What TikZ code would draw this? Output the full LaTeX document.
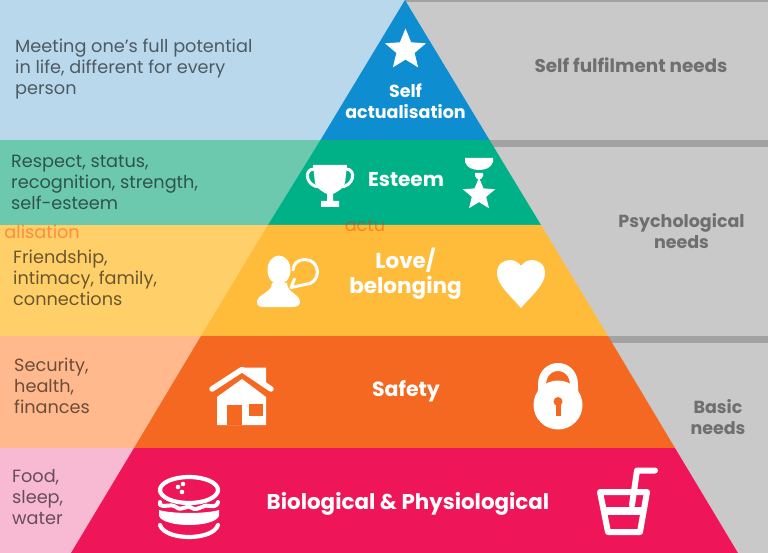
\documentclass[tikz,border=0pt]{standalone}
\usepackage{fontspec}
\setmainfont{Poppins}
\usepackage{tikz}
\usetikzlibrary{positioning,shapes.geometric}
\definecolor{selfblue}{HTML}{0E8ED0}
\definecolor{esteemgreen}{HTML}{00B188}
\definecolor{loveyellow}{HTML}{FFBC3A}
\definecolor{safetyorange}{HTML}{F56821}
\definecolor{bioRed}{HTML}{EE1558}
\definecolor{selfpale}{HTML}{B9D8EB}
\definecolor{esteempale}{HTML}{6DC9AE}
\definecolor{lovepale}{HTML}{FFCF69}
\definecolor{safetypale}{HTML}{FFB98C}
\definecolor{biopale}{HTML}{F8B9D2}
\definecolor{sidegray}{HTML}{C9C9C9}
\definecolor{rulegray}{HTML}{A2A2A2}
\definecolor{sidetext}{HTML}{6F6F6F}
\tikzset{
  needtext/.style = {anchor=west, align=left, font=\fontsize{17.7}{21}\selectfont, text=black, text opacity=0.58, inner sep=0pt},
  leveltext/.style = {align=center, font=\fontsize{20.5}{25}\selectfont\bfseries, text=white, inner sep=0pt},
  grouptext/.style = {align=center, font=\fontsize{17.5}{21}\selectfont\bfseries, text=sidetext, inner sep=0pt},
  ghosttext/.style = {font=\fontsize{17.7}{21}\selectfont, text=red!70!orange, text opacity=0.4, inner sep=0pt},
  iconline/.style = {draw=white, line cap=round, line join=round},
  iconfill/.style = {fill=white},
  iconstar/.style = {star, star points=5, star point ratio=2.25, fill=white, inner sep=0pt},
}
\begin{document}
\begin{tikzpicture}[x=1pt, y=-1pt]
\useasboundingbox (0,0) rectangle (768,553);

% Side bands
\fill[selfpale] (0,0) rectangle (405,140);
\fill[esteempale] (0,140) rectangle (330,225);
\fill[lovepale] (0,225) rectangle (280,336);
\fill[safetypale] (0,336) rectangle (210,448);
\fill[biopale] (0,448) rectangle (140,553);
\fill[sidegray] (405,0) -- (768,0) -- (768,553) -- (738,553) -- cycle;
\fill[rulegray] (405,0) rectangle (768,2);
\fill[rulegray] (480,140) rectangle (768,147);
\fill[rulegray] (600,336) rectangle (768,343);

% Pyramid
\fill[selfblue] (405,0) -- (489.5,140) -- (320.5,140) -- cycle;
\fill[esteemgreen] (320.5,140) -- (489.5,140) -- (541,225) -- (268,225) -- cycle;
\fill[loveyellow] (268,225) -- (541,225) -- (608,336) -- (201,336) -- cycle;
\fill[safetyorange] (201,336) -- (608,336) -- (675,448) -- (134,448) -- cycle;
\fill[bioRed] (134,448) -- (675,448) -- (738,553) -- (71,553) -- cycle;

% Left texts
\node[needtext] (needself) at (15,69) {Meeting one’s full potential\\in life, different for every\\person};
\node[needtext] (needesteem) at (11,182) {Respect, status,\\recognition, strength,\\self-esteem};
\node[needtext] (needlove) at (13,278) {Friendship,\\intimacy, family,\\connections};
\node[needtext] (needsafety) at (14,385.5) {Security,\\health,\\finances};
\node[needtext] (needbio) at (12,497.5) {Food,\\sleep,\\water};

% Ghost texts
\node[ghosttext, anchor=east] (ghostleft) at (80,232) {alisation};
\node[ghosttext] (ghostmid) at (365,226) {actu};

% Level texts
\node[leveltext, font=\fontsize{17.5}{21}\selectfont\bfseries] (levelself) at (405.5,101.5) {Self\\actualisation};
\node[leveltext, font=\fontsize{20}{24}\selectfont\bfseries] (levelesteem) at (406,180) {Esteem};
\node[leveltext, font=\fontsize{21.5}{25}\selectfont\bfseries] (levellove) at (405.5,274) {Love/\\belonging};
\node[leveltext] (levelsafety) at (406,391) {Safety};
\node[leveltext, font=\fontsize{21.4}{25}\selectfont\bfseries] (levelbio) at (408,503.5) {Biological \& Physiological};

% Right texts
\node[grouptext, font=\fontsize{18.4}{21}\selectfont\bfseries] (groupself) at (631,65) {Self fulfilment needs};
\node[grouptext] (grouppsych) at (681.5,231) {Psychological\\needs};
\node[grouptext] (groupbasic) at (718,417) {Basic\\needs};

% Star icon
\node[iconstar, minimum size=43pt] (iconself) at (405.5,50) {};

% Trophy icon
\draw[iconline, line width=3pt] (314,169) .. controls (303,169) and (306,187) .. (320,187);
\draw[iconline, line width=3pt] (346,169) .. controls (357,169) and (354,187) .. (340,187);
\fill[iconfill] (313,165) -- (347,165) -- (345,183) .. controls (343,189) and (337,192) .. (333,194)
  -- (333,201) -- (339,201) -- (339,207) -- (321,207) -- (321,201) -- (327,201) -- (327,194)
  .. controls (323,192) and (317,189) .. (315,183) -- cycle;

% Medal icon
\fill[iconfill] (465,158) -- (493,158) -- (493,162) .. controls (491,168) and (485,170) .. (479,170)
  .. controls (473,170) and (467,168) .. (465,162) -- cycle;
\fill[iconfill] (475,173) -- (483,173) -- (483,176) -- (481,179) -- (477,179) -- (475,176) -- cycle;
\node[iconstar, minimum size=34pt] (iconesteem) at (479,194.5) {};

% Person and bubble icon
\fill[iconfill] (279,270) ellipse (11.5pt and 14.5pt);
\fill[iconfill] (272,283) -- (287,283) .. controls (287,293) and (300,294) .. (300,302)
  .. controls (300,306) and (296,307) .. (292,307) -- (264,307)
  .. controls (260,307) and (257,306) .. (257,302) .. controls (257,294) and (272,293) .. (272,283) -- cycle;
\draw[iconline, line width=3pt] (293,270) .. controls (293,264) and (298,259.5) .. (305,259.5)
  .. controls (312,259.5) and (317.5,265) .. (317.5,272) .. controls (317.5,279) and (312,284.5) .. (305,284.5)
  -- (291,287.5) -- (294.5,279);

% Heart icon
\fill[iconfill] (521,308) .. controls (510,295) and (497,285) .. (497,273)
  .. controls (497,264) and (504,260) .. (510,260) .. controls (515,260) and (519,263) .. (521,266)
  .. controls (523,263) and (527,260) .. (532,260) .. controls (538,260) and (545,264) .. (545,273)
  .. controls (545,285) and (532,295) .. (521,308) -- cycle;

% House icon
\fill[iconfill] (243,367.5) -- (266,367.5) -- (266,386) -- (250,376) -- cycle;
\fill[iconfill] (217,397) -- (242,379) -- (266,397) -- (266,425) -- (217,425) -- cycle;
\draw[safetyorange, line width=1.4pt] (212,394) -- (242,374) -- (272,394);
\draw[iconline, line width=5.5pt] (212,389) -- (242,369.5) -- (271,389);
\fill[safetyorange] (227,405) rectangle (242,425);
\fill[safetyorange] (249,404) rectangle (263,416);

% Padlock icon
\draw[iconline, line width=8pt] (542,392) -- (542,385) .. controls (542,361) and (574,361) .. (574,385) -- (574,392);
\fill[iconfill] (558,405) circle (24.5pt);
\fill[safetyorange] (558,401.5) circle (4.5pt);
\fill[safetyorange] (555.5,402) rectangle (560.5,416);

% Burger icon
\draw[iconline, line width=4.2pt] (189,490) ellipse (29pt and 13pt);
\fill[iconfill] (178,487) circle (2.3pt) (183,484) circle (2.3pt) (182,492) circle (2.3pt);
\draw[iconline, line width=4pt] (160,502) -- (160,505) .. controls (165,508) and (170,503) .. (176,507)
  .. controls (182,512) and (186,504) .. (192,508) .. controls (198,512) and (204,503) .. (210,506)
  .. controls (214,507) and (218,505) .. (218,502);
\fill[iconfill] (159,510) .. controls (172,514) and (206,514) .. (219,510) -- (219,516)
  .. controls (214,528) and (164,528) .. (159,516) -- cycle;
\draw[iconline, line width=4.2pt] (160,525) .. controls (165,541) and (213,541) .. (218,525);

% Cup icon
\draw[iconline, line width=6pt] (600,492) -- (647,492) -- (640,532) -- (608,532) -- cycle;
\draw[iconline, line width=8pt] (605,510.5) -- (642,510.5);
\draw[iconline, line width=6pt] (632,505) -- (637,470.5) -- (655,470.5);

\end{tikzpicture}
\end{document}
